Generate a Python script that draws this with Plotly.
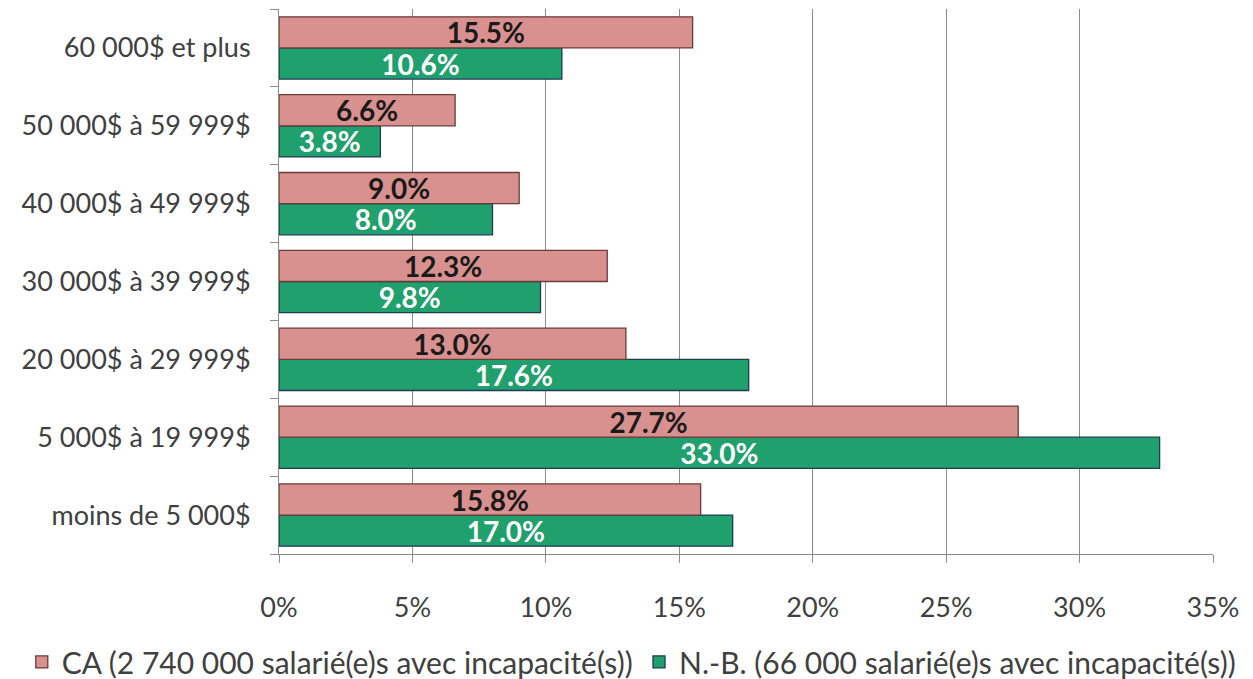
import plotly.graph_objects as go

categories = ["moins de 5 000$", "5 000$ à 19 999$", "20 000$ à 29 999$",
              "30 000$ à 39 999$", "40 000$ à 49 999$", "50 000$ à 59 999$",
              "60 000$ et plus"]
ca_values = [15.8, 27.7, 13.0, 12.3, 9.0, 6.6, 15.5]
nb_values = [17.0, 33.0, 17.6, 9.8, 8.0, 3.8, 10.6]
x_ticks = [0, 5, 10, 15, 20, 25, 30, 35]

FONT = "Lato"

fig = go.Figure()

# green first so that it sits below the pink bar in each group
fig.add_trace(go.Bar(
    y=categories, x=nb_values, orientation="h",
    name="N.-B. (66 000 salarié(e)s avec incapacité(s))",
    marker=dict(color="#20A06C", line=dict(color="#1F3B58", width=1.3)),
    text=[f"{v:.1f}%" for v in nb_values],
    textposition="inside", insidetextanchor="middle", constraintext="none",
    textfont=dict(family=FONT, size=28, color="white", weight="bold"),
    legend="legend2",
))
fig.add_trace(go.Bar(
    y=categories, x=ca_values, orientation="h",
    name="CA (2 740 000 salarié(e)s avec incapacité(s))",
    marker=dict(color="#D9918F", line=dict(color="#6B3B3A", width=1.3)),
    text=[f"{v:.1f}%" for v in ca_values],
    textposition="inside", insidetextanchor="middle", constraintext="none",
    textfont=dict(family=FONT, size=28, color="#1A1A1A", weight="bold"),
    legend="legend",
))

# one legend per series so the long entries sit side by side without wrapping
leg_style = dict(orientation="h", xanchor="left", xref="container",
                 yref="container", y=0.037, yanchor="middle",
                 font=dict(size=30, color="#404040"), itemwidth=30)

# the page adds an 8px body margin, so margins are shifted to compensate
fig.update_layout(
    width=1253, height=679,
    barmode="group", bargap=0.2, bargroupgap=0,
    plot_bgcolor="white", paper_bgcolor="white",
    margin=dict(l=271, r=48, t=1, b=133, autoexpand=False),
    font=dict(family=FONT, size=27, color="#404040"),
    legend=dict(x=0.011, **leg_style),
    legend2=dict(x=0.5036, **leg_style),
    showlegend=True,
)
fig.update_xaxes(
    range=[0, 35], tickvals=x_ticks, ticktext=[f"{t}%" for t in x_ticks],
    showgrid=True, gridcolor="#8C8C8C", gridwidth=1,
    showline=True, linecolor="#8C8C8C", linewidth=1,
    ticks="outside", ticklen=8, tickcolor="#8C8C8C",
    ticklabelstandoff=22, automargin=False,
    zeroline=False, fixedrange=True,
)
fig.update_yaxes(
    categoryorder="array", categoryarray=categories,
    showline=True, linecolor="#8C8C8C", linewidth=1,
    ticks="outside", ticklen=8, tickcolor="#8C8C8C",
    tickson="boundaries", showgrid=False,
    ticklabelstandoff=22, automargin=False,
)

fig.write_html("out.html")
